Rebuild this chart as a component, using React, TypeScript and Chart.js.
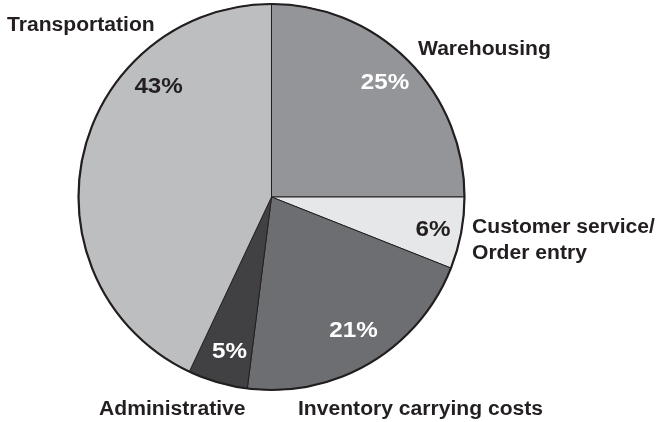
import React, { useEffect, useRef } from "react";
import { Chart, registerables } from "chart.js";

Chart.register(...registerables);

// ---- data ----
const categories = [
  "Warehousing",
  "Customer service/\nOrder entry",
  "Inventory carrying costs",
  "Administrative",
  "Transportation",
];
const shares = [25, 6, 21, 5, 43];
const sliceColors = ["#939598", "#e6e7e8", "#6d6e71", "#414042", "#bcbec0"];
const pctColors = ["#ffffff", "#231f20", "#ffffff", "#ffffff", "#231f20"];

// ---- label layout (relative to pie: fraction of radius, baseline-centre) ----
const pctOffsets = [
  [0.588, -0.56],
  [0.837, 0.202],
  [0.425, 0.725],
  [-0.218, 0.834],
  [-0.585, -0.539],
];
// category labels: left x, first baseline y (canvas px)
const catPositions = [
  [418, 55],
  [472, 233],
  [298, 415],
  [99, 415],
  [7, 31],
];

const FONT = '"Liberation Sans", Arial, Helvetica, sans-serif';

function drawStretched(
  ctx: CanvasRenderingContext2D,
  text: string,
  x: number,
  y: number,
  align: "left" | "center",
  stretch: number
) {
  const w = ctx.measureText(text).width * stretch;
  const left = align === "center" ? x - w / 2 : x;
  ctx.save();
  ctx.translate(left, y);
  ctx.scale(stretch, 1);
  ctx.textAlign = "left";
  ctx.fillText(text, 0, 0);
  ctx.restore();
}

const labelPlugin = {
  id: "pieLabels",
  afterDatasetsDraw(chart: any) {
    const ctx: CanvasRenderingContext2D = chart.ctx;
    const meta = chart.getDatasetMeta(0);
    const arc0 = meta.data[0];
    const cx = arc0.x;
    const cy = arc0.y;
    const r = arc0.outerRadius;
    // outer rim
    ctx.save();
    ctx.beginPath();
    ctx.arc(cx, cy, r, 0, Math.PI * 2);
    ctx.lineWidth = 2.2;
    ctx.strokeStyle = "#231f20";
    ctx.stroke();
    ctx.restore();

    ctx.save();
    ctx.textBaseline = "alphabetic";
    // percentages
    ctx.font = `bold 22px ${FONT}`;
    shares.forEach((v, i) => {
      ctx.fillStyle = pctColors[i];
      const [fx, fy] = pctOffsets[i];
      drawStretched(ctx, `${v}%`, cx + fx * r, cy + fy * r, "center", 1.1);
    });
    // category labels
    ctx.font = `bold 20px ${FONT}`;
    ctx.fillStyle = "#231f20";
    categories.forEach((c, i) => {
      const [x, y] = catPositions[i];
      c.split("\n").forEach((line, j) => {
        drawStretched(ctx, line, x, y + j * 26, "left", 1.055);
      });
    });
    ctx.restore();
  },
};

export default function App() {
  const ref = useRef<HTMLCanvasElement | null>(null);
  useEffect(() => {
    if (!ref.current) return;
    const chart = new Chart(ref.current, {
      type: "pie",
      data: {
        labels: categories.map((c) => c.replace("\n", " ")),
        datasets: [
          {
            data: shares,
            backgroundColor: sliceColors,
            borderColor: "#231f20",
            borderWidth: 1,
            hoverOffset: 0,
          },
        ],
      },
      options: {
        responsive: false,
        animation: false,
        radius: 193,
        layout: { padding: { left: 78, right: 193, top: 4, bottom: 32 } },
        plugins: {
          legend: { display: false },
          tooltip: { enabled: false },
        },
        events: [],
      },
      plugins: [labelPlugin],
    });
    return () => chart.destroy();
  }, []);
  return (
    <div style={{ position: "fixed", left: 0, top: 0, width: 658, height: 422, background: "#fff" }}>
      <canvas ref={ref} width={658} height={422} style={{ display: "block" }} />
    </div>
  );
}
